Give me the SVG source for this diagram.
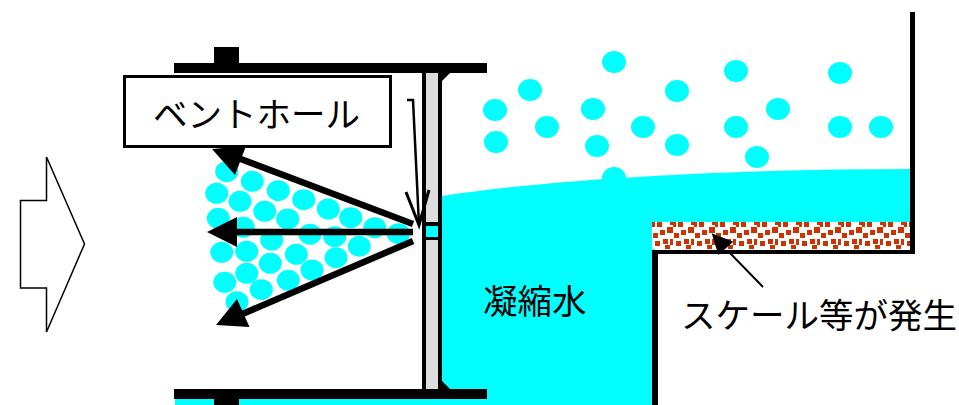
<svg xmlns="http://www.w3.org/2000/svg" width="959" height="405" viewBox="0 0 959 405">
<style>
.b{fill:#000}
.c{fill:#00ffff}
.t{font-family:"Noto Sans CJK JP","Liberation Sans",sans-serif;font-size:34.5px;fill:#000}
.w{stroke:#000;fill:none}
</style>
<defs>
<pattern id="scale" x="652" y="222" width="21" height="27" patternUnits="userSpaceOnUse">
<rect width="21" height="27" fill="#fff"/>
<g fill="#cc3300" shape-rendering="crispEdges">
<rect x="0" y="0" width="3" height="5"/>
<rect x="5" y="0" width="5" height="5"/>
<rect x="18" y="0" width="3" height="3"/>
<rect x="8" y="8" width="5" height="5"/>
<rect x="15" y="5" width="6" height="6"/>
<rect x="1" y="11" width="5" height="5"/>
<rect x="11" y="17" width="5" height="5"/>
<rect x="3" y="19" width="5" height="5"/>
<rect x="18" y="17" width="3" height="6"/>
<rect x="13" y="23" width="5" height="4"/>
</g>
</pattern>
</defs>
<rect width="959" height="405" fill="#fff"/>
<g id="water">
<path class="c" d="M442 196 C560 178 740 169 912 169 L912 224 L655 224 L655 405 L442 405 Z"/>
<rect class="c" x="175" y="399" width="280" height="6"/>
</g>
<g id="scale-layer"><rect x="652" y="222" width="258" height="27" fill="url(#scale)"/></g>
<g id="droplets" class="c">
<ellipse cx="495" cy="110" rx="12" ry="11"/><ellipse cx="530" cy="90" rx="12" ry="11"/><ellipse cx="614" cy="62" rx="12" ry="11"/><ellipse cx="593" cy="109" rx="12" ry="11"/><ellipse cx="677" cy="91" rx="12" ry="11"/><ellipse cx="736" cy="71" rx="12" ry="11"/><ellipse cx="778" cy="109" rx="12" ry="11"/><ellipse cx="840" cy="73" rx="12" ry="11"/><ellipse cx="496" cy="142" rx="12" ry="11"/><ellipse cx="547" cy="127" rx="12" ry="11"/><ellipse cx="597" cy="146" rx="12" ry="11"/><ellipse cx="643" cy="127" rx="12" ry="11"/><ellipse cx="677" cy="145" rx="12" ry="11"/><ellipse cx="736" cy="127" rx="12" ry="11"/><ellipse cx="757" cy="157" rx="12" ry="11"/><ellipse cx="840" cy="127" rx="12" ry="11"/><ellipse cx="881" cy="127" rx="12" ry="11"/><ellipse cx="614" cy="178" rx="12" ry="11"/>
<ellipse cx="226.7" cy="171.7" rx="11.5" ry="10.5"/><ellipse cx="252.3" cy="181.3" rx="11.5" ry="10.5"/><ellipse cx="278.3" cy="190.7" rx="11.5" ry="10.5"/><ellipse cx="303.7" cy="199.7" rx="11.5" ry="10.5"/><ellipse cx="328.3" cy="209" rx="11.5" ry="10.5"/><ellipse cx="350.7" cy="217.7" rx="11.5" ry="10.5"/><ellipse cx="374.7" cy="227.7" rx="11.5" ry="10.5"/><ellipse cx="398.3" cy="233.7" rx="11.5" ry="10.5"/><ellipse cx="216.7" cy="193.3" rx="11.5" ry="10.5"/><ellipse cx="240" cy="201.3" rx="11.5" ry="10.5"/><ellipse cx="264.7" cy="211.3" rx="11.5" ry="10.5"/><ellipse cx="287.7" cy="219" rx="11.5" ry="10.5"/><ellipse cx="218.3" cy="218.3" rx="11.5" ry="10.5"/><ellipse cx="243.3" cy="227.3" rx="11.5" ry="10.5"/><ellipse cx="271.7" cy="240" rx="11.5" ry="10.5"/><ellipse cx="310" cy="234.3" rx="11.5" ry="10.5"/><ellipse cx="334.7" cy="236.7" rx="11.5" ry="10.5"/><ellipse cx="359.3" cy="246.3" rx="11.5" ry="10.5"/><ellipse cx="221.7" cy="252.3" rx="11.5" ry="10.5"/><ellipse cx="246.7" cy="251.3" rx="11.5" ry="10.5"/><ellipse cx="296.3" cy="254.3" rx="11.5" ry="10.5"/><ellipse cx="270.3" cy="263.3" rx="11.5" ry="10.5"/><ellipse cx="336" cy="257.7" rx="11.5" ry="10.5"/><ellipse cx="246.7" cy="273.3" rx="11.5" ry="10.5"/><ellipse cx="312" cy="270" rx="11.5" ry="10.5"/><ellipse cx="224.7" cy="282.3" rx="11.5" ry="10.5"/><ellipse cx="261.3" cy="289.7" rx="11.5" ry="10.5"/><ellipse cx="288.3" cy="280.3" rx="11.5" ry="10.5"/><ellipse cx="237" cy="301.7" rx="11.5" ry="10.5"/>
</g>
<g id="structure">
<rect class="b" x="174" y="63" width="313" height="10"/>
<rect class="b" x="214" y="47" width="25" height="16"/>
<rect class="b" x="174" y="389" width="313" height="10"/>
<rect class="b" x="214" y="399" width="25" height="6"/>
<rect x="426" y="73" width="12" height="316" fill="#dddddd"/>
<rect class="b" x="422" y="73" width="4" height="316"/>
<rect class="b" x="438" y="73" width="4" height="316"/>
<rect class="b" x="426" y="222" width="12" height="18"/>
<rect class="c" x="426" y="226" width="12" height="11"/>
<path class="b" d="M442 73 L450 73 L442 81 Z"/>
<path class="b" d="M442 381 L450 389 L442 389 Z"/>
<rect class="b" x="910" y="12" width="5" height="242"/>
<rect class="b" x="652" y="250" width="263" height="4"/>
<rect class="b" x="652" y="250" width="6" height="155"/>
</g>
<g id="inlet-arrow"><path d="M20.500 200.500 H46.500 V157 L84.500 244 L46.500 332 V288 H20.500 Z" fill="#fff" stroke="#000" stroke-width="1.500"/></g>
<g id="connectors">
<path class="w" stroke-width="6.500" d="M413 224 L238 158"/>
<path class="b" d="M212 149 L246 146 L235 175 Z"/>
<path class="w" stroke-width="6.500" d="M413 232 L236 232"/>
<path class="b" d="M207 232 L237 217 L237 247 Z"/>
<path class="w" stroke-width="6.500" d="M413 241 L240 315"/>
<path class="b" d="M216 325 L237 299 L249.500 327 Z"/>
<path class="w" stroke-width="2.500" d="M407 100 H413 L419 225"/>
<path class="w" stroke-width="3" d="M406 192 L419 225 L429 190"/>
<path class="w" stroke-width="2" d="M763 287 L728 251"/>
<path class="b" d="M711.700 233.300 L733.300 241.700 L718.300 255 Z"/>
</g>
<g id="label-vent">
<rect x="124.500" y="76.500" width="266" height="70" fill="#fff" stroke="#000" stroke-width="3"/>
<text class="t" x="153" y="127">ベントホール</text>
</g>
<g id="label-condensate"><text class="t" x="483" y="314">凝縮水</text></g>
<g id="label-scale"><text class="t" x="681" y="328">スケール等が発生</text></g>
</svg>
